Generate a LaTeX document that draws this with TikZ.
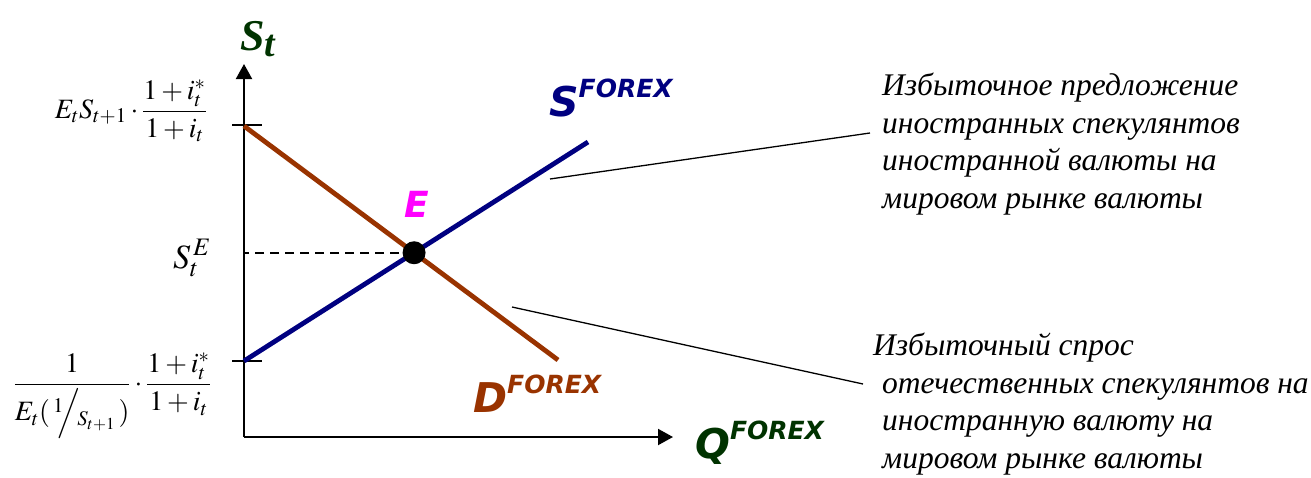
\documentclass[tikz,border=0pt]{standalone}
\usepackage{amsmath,amssymb}
\usepackage{mathptmx}
\usepackage{fontspec}
\setmainfont{Liberation Serif}
\newfontfamily\verd{DejaVu Sans}
\newfontfamily\rus{Liberation Serif}
\usetikzlibrary{arrows.meta,calc}
\definecolor{dbrown}{HTML}{993300}
\definecolor{dnavy}{HTML}{000080}
\definecolor{dgreen}{HTML}{003300}
\definecolor{dmag}{HTML}{FF00FF}
\newcommand{\biglet}[2]{\fontsize{41}{41}\selectfont #1\raisebox{19pt}{\fontsize{25}{25}\selectfont #2}}
\begin{document}
\begin{tikzpicture}[x=1pt,y=-1pt,
  axis/.style={line width=2pt,-{Triangle[length=15pt,width=16pt]}},
  tickline/.style={line width=2.4pt},
  curve/.style={line width=4.8pt},
  pointer/.style={line width=1.3pt},
  biglab/.style={font=\verd\bfseries\itshape, inner sep=0pt, anchor=base west},
  note/.style={font=\rus\itshape\fontsize{31.5}{37.5}\selectfont, align=left, anchor=north west, inner sep=0pt},
  mathlab/.style={inner sep=0pt, font=\fontsize{28}{32}\selectfont}]
\useasboundingbox (0,0) rectangle (1311,477);
\coordinate (O) at (244,437);
\coordinate (ytip) at (244,64);
\coordinate (xtip) at (673,437);
\coordinate (dtop) at (244,126);
\coordinate (dend) at (558,360);
\coordinate (sbot) at (244,361);
\coordinate (send) at (588,142);
\coordinate (t1a) at (232,125);
\coordinate (t1b) at (262,125);
\coordinate (t2a) at (232,361);
\coordinate (t2b) at (262,361);
\draw[axis] (O) -- (ytip);
\draw[axis] (O) -- (xtip);
\draw[tickline] (t1a) -- (t1b);
\draw[tickline] (t2a) -- (t2b);
\draw[curve, dbrown] (dtop) -- (dend);
\draw[curve, dnavy] (sbot) -- (send);
\coordinate (X) at (intersection of dtop--dend and sbot--send);
\draw[line width=1.7pt, dash pattern=on 9pt off 6pt] (X) -- (X -| O);
\node[circle, fill=black, minimum size=23pt, inner sep=0pt] (E) at (X) {};
\node[inner sep=0pt, dmag, font=\verd\bfseries\itshape\fontsize{36}{36}\selectfont] (Elab) at (417,204) {E};
% S^FOREX, D^FOREX, Q^FOREX
\node[biglab, dnavy] (Sf) at (549,116) {\biglet{S}{FOREX}};
\node[biglab, dbrown] (Df) at (473,412) {\biglet{D}{FOREX}};
\node[biglab, dgreen] (Qf) at (695,458) {\biglet{Q}{FOREX}};
\node[inner sep=0pt, anchor=base west, dgreen, font=\rus\bfseries\itshape] (St) at (240,50) {\fontsize{44}{44}\selectfont S\raisebox{-6pt}{\fontsize{38}{38}\selectfont t}};
% formulas
\node[mathlab, anchor=east] (f1) at (207,111) {$E_{t}S_{t+1}\cdot\dfrac{1+i_{t}^{*}}{1+i_{t}}$};
\node[mathlab, anchor=east] (f2) at (211,396) {$\dfrac{1}{E_{t}(\,{}^{1}\!\!\Big/\!{}_{S_{t+1}}\,)}\cdot\dfrac{1+i_{t}^{*}}{1+i_{t}}$};
\node[inner sep=0pt, font=\fontsize{34}{38}\selectfont] (fse) at (192,258) {$S_{t}^{\,E}$};
% notes
\node[note] (n1) at (882,73) {Избыточное предложение\\иностранных спекулянтов\\иностранной валюты на\\мировом рынке валюты};
\node[note] (n2) at (882,333) {\hspace*{-9pt}Избыточный спрос\\отечественных спекулянтов на\\иностранную валюту на\\мировом рынке валюты};
\coordinate (p1a) at (550,179);
\coordinate (p1b) at (870,133);
\coordinate (p2a) at (512,307);
\coordinate (p2b) at (863,384);
\draw[pointer] (p1a) -- (p1b);
\draw[pointer] (p2a) -- (p2b);
\end{tikzpicture}
\end{document}
